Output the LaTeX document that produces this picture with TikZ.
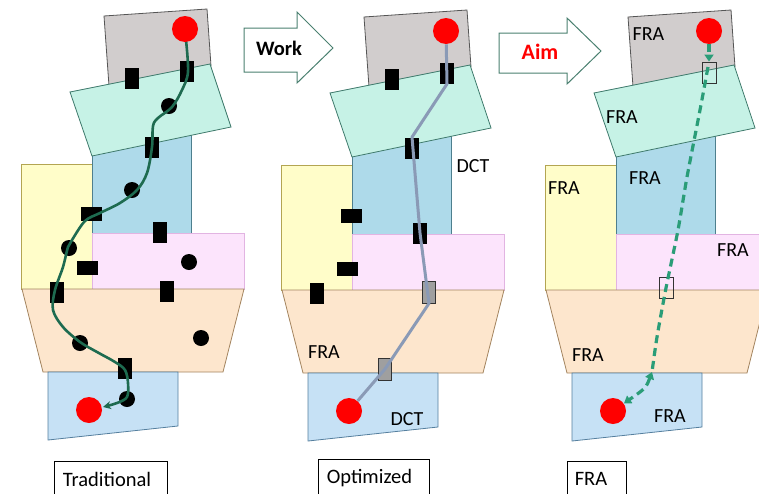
\documentclass[tikz,border=0pt]{standalone}
\usepackage{fontspec}
\setmainfont{Carlito}
\usetikzlibrary{arrows.meta}
\definecolor{cgrey}{HTML}{D1CDCD}\definecolor{bgrey}{HTML}{555555}
\definecolor{cteal}{HTML}{C6F2E6}\definecolor{bteal}{HTML}{3F7A6C}
\definecolor{cblue}{HTML}{AEDAEA}\definecolor{bblue}{HTML}{4E7F8E}
\definecolor{cyel}{HTML}{FFFDC9}\definecolor{byel}{HTML}{B3A552}
\definecolor{cpink}{HTML}{FCE4FC}\definecolor{bpink}{HTML}{E2B4E2}
\definecolor{cbeige}{HTML}{FDE6CD}\definecolor{bbeige}{HTML}{A3845F}
\definecolor{clow}{HTML}{C6E1F5}\definecolor{blow}{HTML}{557F9E}
\definecolor{gpath}{HTML}{1E6B50}
\definecolor{spath}{HTML}{8A9AB6}
\definecolor{dpath}{HTML}{2A9D78}
\definecolor{arrowline}{HTML}{4A8070}
\newcommand\drawpanelbg{%
  \filldraw[fill=cyel, draw=byel] (21,164) rectangle (92,289);
  \filldraw[fill=cblue, draw=bblue] (92,132) rectangle (191,233);
  \filldraw[fill=cpink, draw=bpink] (92,233) rectangle (244,289);
  \filldraw[fill=cbeige, draw=bbeige] (22,289) -- (244,289) -- (223,372) -- (43,372) -- cycle;
  \filldraw[fill=clow, draw=blow] (48,372) -- (178,372) -- (178,426) -- (48,440) -- cycle;
  \filldraw[fill=cgrey, draw=bgrey] (104,16) -- (207,9) -- (211,66) -- (109,86) -- cycle;
  \filldraw[fill=cteal, draw=bteal] (70,92) -- (210,64) -- (231,127) -- (92,156) -- cycle;
}
\begin{document}
\begin{tikzpicture}[x=1pt,y=-1pt,line width=0.8pt,
  blkv/.style={fill=black, inner sep=0pt, minimum width=14pt, minimum height=21pt},
  blkh/.style={fill=black, inner sep=0pt, minimum width=21pt, minimum height=14pt},
  gryv/.style={fill=gray!75, draw=black!80, line width=0.8pt, inner sep=0pt, minimum width=13pt, minimum height=22pt},
  sbox/.style={draw=black!80, line width=0.9pt, inner sep=0pt, minimum width=14pt, minimum height=21pt},
  bdot/.style={circle, fill=black, inner sep=0pt, minimum size=16pt},
  reddot/.style={circle, fill=red, inner sep=0pt, minimum size=26pt},
  lbl/.style={font=\fontsize{20}{23}\selectfont, inner sep=0pt},
  caplbl/.style={font=\fontsize{20.5}{23}\selectfont, inner sep=0pt, anchor=base},
  capbox/.style={draw=black, line width=1pt, fill=white},
  blockarrow/.style={draw=arrowline, line width=1pt, fill=white}]
\useasboundingbox (0,0) rectangle (759,493);
\clip (0,0) rectangle (759,493);
% panels
\drawpanelbg
\begin{scope}[shift={(260,1)}]\drawpanelbg\end{scope}
\begin{scope}[shift={(524,1)}]\drawpanelbg\end{scope}
% block arrows
\filldraw[blockarrow] (244,28) -- (297,28) -- (297,12) -- (333,48) -- (297,83) -- (297,72) -- (244,72) -- cycle;
\node[inner sep=0pt, font=\fontsize{20.5}{23}\selectfont\bfseries] (work) at (279,48.5) {Work};
\filldraw[blockarrow] (499,33) -- (567,33) -- (567,18) -- (601,51) -- (567,84) -- (567,73) -- (499,73) -- cycle;
\node[inner sep=0pt, font=\fontsize{22}{24}\selectfont\bfseries, text=red] (aim) at (540,51.5) {Aim};
% ---------- panel 1 ----------
\node[blkv] (a1) at (132,78) {};
\node[blkv] (a2) at (187,71) {};
\node[blkv] (a3) at (152,147) {};
\node[blkv] (a4) at (160,232) {};
\node[blkv] (a5) at (57,292) {};
\node[blkv] (a6) at (167,291) {};
\node[blkv] (a7) at (125,368) {};
\node[blkh] (a8) at (91,214) {};
\node[blkh] (a9) at (87,268) {};
\node[bdot] (d1) at (169,106) {};
\node[bdot] (d2) at (132,190) {};
\node[bdot] (d3) at (69,248) {};
\node[bdot] (d4) at (189,262) {};
\node[bdot] (d5) at (80,343) {};
\node[bdot] (d6) at (201,338) {};
\node[bdot] (d7) at (127,399) {};
\coordinate (s1) at (186,40);
\coordinate (e1) at (103,407);
\draw[gpath, line width=2.6pt, -{Stealth[length=8pt,width=8pt]}]
  plot[smooth, tension=0.55] coordinates {(s1) (188,72) (182,90) (172,107) (158,118) (153,126) (152,147)
  (147,173) (137,190) (120,203) (100,213) (85,221) (72,240) (68,247) (63,267) (55,290) (53,310)
  (63,327) (80,342) (97,352) (115,362) (125,370) (128,383) (127,397) (117,403) (e1)};
\node[reddot] (r1a) at (185,29) {};
\node[reddot] (r1b) at (89,410) {};
% ---------- panel 2 ----------
\node[blkv] (b1) at (392,79) {};
\node[blkv] (q1) at (447,73) {};
\node[blkv] (q2) at (412,148) {};
\node[blkv] (q3) at (420,233) {};
\node[blkv] (b2) at (317,293) {};
\node[blkh] (b3) at (351,216) {};
\node[blkh] (b4) at (347,269) {};
\node[gryv] (q4) at (429,292) {};
\node[gryv] (q5) at (385,369) {};
\node[reddot] (r2a) at (446,31) {};
\node[reddot] (r2b) at (349,411) {};
\draw[spath, line width=3pt, line join=round]
  (r2a) -- (q1.south) -- (q2.north) -- (q3.center) -- (q4.south) -- (q5.center) -- (r2b);
\node[lbl] (dct1) at (473,166) {DCT};
\node[lbl] (fra21) at (324,352) {FRA};
\node[lbl] (dct2) at (407,419) {DCT};
% ---------- panel 3 ----------
\node[sbox] (c1) at (709,72.5) {};
\node[sbox] (c2) at (666,288) {};
\node[reddot] (r3a) at (709,31) {};
\node[reddot] (r3b) at (613,411) {};
\coordinate (m3) at (652,372);
\draw[dpath, line width=3.2pt, dash pattern=on 8pt off 5pt, -{Triangle[length=7pt,width=9pt]}]
  (r3a) -- (c1.north);
\draw[dpath, line width=3.2pt, dash pattern=on 8pt off 5pt]
  plot[smooth] coordinates {(708,67) (700,110) (687,177) (678,230) (c2.center) (657,337) (m3)};
\draw[dpath, line width=3.2pt, dash pattern=on 8pt off 5pt, {Triangle[length=7pt,width=9pt]}-{Triangle[length=7pt,width=9pt]}]
  (m3) .. controls (646,388) .. (r3b);
\node[lbl] (f1) at (648.5,34) {FRA};
\node[lbl] (f2) at (622,117) {FRA};
\node[lbl] (f3) at (645,178) {FRA};
\node[lbl] (f4) at (564,188) {FRA};
\node[lbl] (f5) at (733,250) {FRA};
\node[lbl] (f6) at (588,355) {FRA};
\node[lbl] (f7) at (670,416) {FRA};
% ---------- captions ----------
\draw[capbox] (54,461) rectangle (167,505);
\node[caplbl] (t1) at (107,486) {Traditional};
\draw[capbox] (318,459) rectangle (429,505);
\node[caplbl] (t2) at (369.5,483) {Optimized};
\draw[capbox] (567,461) rectangle (626,505);
\node[caplbl] (t3) at (591,485) {FRA};
\end{tikzpicture}
\end{document}
